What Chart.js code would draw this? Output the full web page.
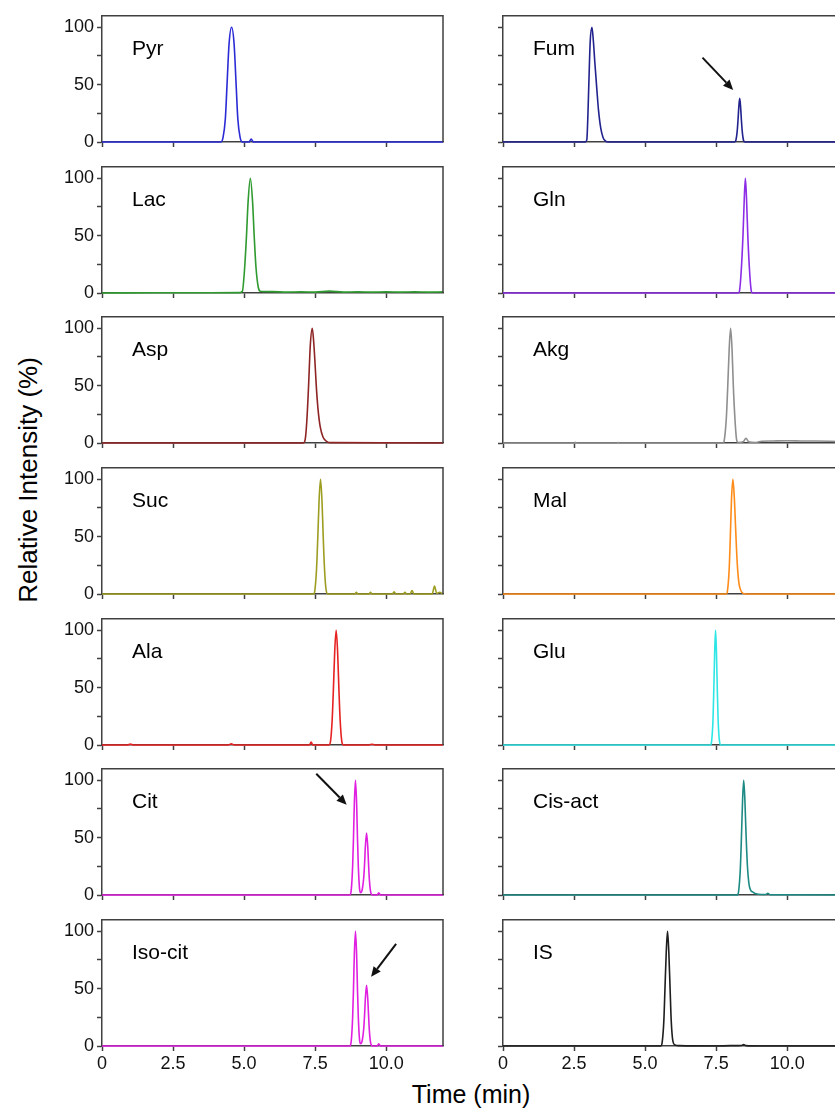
<!DOCTYPE html>
<html>
<head>
<meta charset="utf-8">
<script src="https://cdn.jsdelivr.net/npm/chart.js@4.4.1/dist/chart.umd.min.js"></script>
<style>
  html, body { margin: 0; padding: 0; background: #fff; overflow: hidden; }
  #wrap { position: relative; width: 835px; height: 1111px; overflow: hidden;
          font-family: "Liberation Sans", Arial, sans-serif; color: #000; }
  #wrap canvas { position: absolute; }
  #ytitle { position: absolute; left: 28px; top: 480px; white-space: nowrap; font-size: 26px;
            transform: translate(-50%, -50%) rotate(-90deg); }
  #xtitle { position: absolute; left: 471px; top: 1094px; white-space: nowrap; font-size: 25px;
            transform: translate(-50%, -50%); }
</style>
</head>
<body>
<div id="wrap">
  <div id="ytitle">Relative Intensity (%)</div>
  <div id="xtitle">Time (min)</div>
</div>
<script>
// axis ticks
const timeTicks = [0, 2.5, 5, 7.5, 10];
const intensityTicks = [0, 25, 50, 75, 100];
const labeledIntensity = [0, 50, 100];

// traces, [time (min), relative intensity (%)]
const pyr = [[0,0],[4.18,0],[4.26,4],[4.34,20],[4.4,50],[4.47,85],[4.56,100],[4.65,85],[4.72,50],[4.78,20],[4.86,4],[4.94,0],[5.17,0],[5.25,2.5],[5.33,0],[12,0]];
const lac = [[0,0],[2,0.2],[4.85,0.3],[4.94,1.5],[5.02,22],[5.085,50],[5.14,79],[5.22,100],[5.3,79],[5.355,50],[5.42,22],[5.5,5],[5.57,1.5],[6,1.2],[6.5,0.8],[7,1],[7.5,0.8],[8,1.6],[8.5,0.8],[9,1],[9.5,0.8],[10,1],[10.5,0.8],[11,1],[11.5,0.8],[12,1]];
const asp = [[0,0],[7.08,0],[7.15,3],[7.21,20],[7.27,50],[7.33,85],[7.4,100],[7.45,88],[7.5,68],[7.54,50],[7.6,30],[7.68,14],[7.78,5],[7.9,1.5],[8.05,0.3],[12,0]];
const suc = [[0,0],[7.45,0],[7.49,3],[7.55,22],[7.595,50],[7.64,82],[7.69,100],[7.74,82],[7.785,50],[7.83,22],[7.89,3],[7.95,0],[8.9,0],[8.95,1.5],[9.0,0],[9.4,0],[9.45,1.5],[9.5,0],[10.22,0],[10.28,2],[10.34,0],[10.6,0],[10.66,1.5],[10.72,0],[10.84,0],[10.91,3],[10.98,0],[11.62,0],[11.7,7],[11.78,0.5],[11.88,1.5],[12,0]];
const ala = [[0,0],[0.9,0],[1.0,0.8],[1.1,0],[4.45,0],[4.55,1],[4.65,0],[7.3,0],[7.36,2.5],[7.42,0],[7.98,0],[8.04,3],[8.1,22],[8.145,50],[8.19,82],[8.24,100],[8.29,82],[8.335,50],[8.38,22],[8.44,3],[8.5,0],[9.4,0],[9.5,0.7],[9.6,0],[12,0]];
const cit = [[0,0],[8.72,0],[8.77,4],[8.82,25],[8.85,50],[8.88,80],[8.92,100],[8.96,80],[8.99,50],[9.02,25],[9.07,4],[9.1,2],[9.16,5],[9.21,15],[9.24,27],[9.27,43],[9.31,54],[9.35,43],[9.38,27],[9.41,13],[9.46,2],[9.52,0],[9.68,0],[9.74,2],[9.8,0],[12,0]];
const isoCit = [[0,0],[8.72,0],[8.77,4],[8.82,25],[8.85,50],[8.88,80],[8.92,100],[8.96,80],[8.99,50],[9.02,25],[9.07,4],[9.1,2],[9.16,5],[9.21,15],[9.24,27],[9.27,42],[9.31,53],[9.35,42],[9.38,27],[9.41,13],[9.46,2],[9.52,0],[9.68,0],[9.74,2],[9.8,0],[12,0]];
const fum = [[0,0],[2.9,0],[2.95,2],[2.99,25],[3.02,50],[3.07,88],[3.13,100],[3.18,88],[3.23,70],[3.29,50],[3.36,28],[3.44,12],[3.52,4],[3.6,1],[3.7,0],[8.15,0],[8.2,2],[8.24,9],[8.27,19],[8.3,31],[8.33,38],[8.36,31],[8.39,19],[8.42,9],[8.47,1],[8.52,0],[12,0]];
const gln = [[0,0],[8.28,0],[8.33,3],[8.39,22],[8.445,50],[8.49,82],[8.53,100],[8.57,82],[8.615,50],[8.67,22],[8.73,3],[8.78,0],[12,0]];
const akg = [[0,0],[2.5,0],[2.55,0.6],[2.6,0],[4.0,0],[4.05,0.5],[4.1,0],[7.75,0],[7.79,3],[7.86,22],[7.91,50],[7.96,82],[8.01,100],[8.06,82],[8.105,50],[8.16,22],[8.22,3],[8.28,0.5],[8.45,1],[8.55,4],[8.65,1],[8.9,0.5],[9.1,1.5],[9.5,1.8],[10,2],[10.5,1.8],[11,1.7],[11.5,1.5],[12,1.2]];
const mal = [[0,0],[7.85,0],[7.9,3],[7.96,22],[8.0,50],[8.04,82],[8.09,100],[8.14,84],[8.19,55],[8.24,28],[8.3,10],[8.37,3],[8.45,0.5],[8.55,0],[12,0]];
const glu = [[0,0],[7.3,0],[7.34,3],[7.39,22],[7.42,50],[7.45,82],[7.48,100],[7.51,82],[7.54,50],[7.57,22],[7.62,3],[7.67,0],[12,0]];
const cisAct = [[0,0],[8.25,0],[8.29,3],[8.35,22],[8.39,50],[8.43,82],[8.47,100],[8.51,84],[8.55,55],[8.6,26],[8.66,9],[8.72,4],[8.8,2.5],[8.9,1],[9.1,0.5],[9.25,0.5],[9.32,1.5],[9.4,0.2],[12,0]];
const is = [[0,0],[5.55,0],[5.6,3],[5.66,22],[5.7,50],[5.745,82],[5.79,100],[5.835,82],[5.88,50],[5.92,22],[5.98,4],[6.05,1],[6.2,0.3],[7.5,0],[8.0,0.3],[8.4,0.5],[8.47,1.2],[8.55,0.3],[9,0],[12,0]];

// arrows: [from, to] in [time, intensity]
const fumArrow = [[7.02, 73.5], [8.1, 45.4]];
const citArrow = [[7.54, 105.7], [8.61, 78.7]];
const isoCitArrow = [[10.35, 89], [9.47, 60.3]];

const panels = [
  { name: 'Pyr',     data: pyr,    color: '#2b2bd6', col: 0, row: 0 },
  { name: 'Lac',     data: lac,    color: '#2f9a2f', col: 0, row: 1 },
  { name: 'Asp',     data: asp,    color: '#8e2424', col: 0, row: 2 },
  { name: 'Suc',     data: suc,    color: '#9d9d22', col: 0, row: 3 },
  { name: 'Ala',     data: ala,    color: '#e62222', col: 0, row: 4 },
  { name: 'Cit',     data: cit,    color: '#e11fe1', col: 0, row: 5, arrow: citArrow },
  { name: 'Iso-cit', data: isoCit, color: '#e11fe1', col: 0, row: 6, arrow: isoCitArrow },
  { name: 'Fum',     data: fum,    color: '#22228f', col: 1, row: 0, arrow: fumArrow },
  { name: 'Gln',     data: gln,    color: '#8d2ee6', col: 1, row: 1 },
  { name: 'Akg',     data: akg,    color: '#8f8f8f', col: 1, row: 2 },
  { name: 'Mal',     data: mal,    color: '#ff8c1a', col: 1, row: 3 },
  { name: 'Glu',     data: glu,    color: '#2fe6e6', col: 1, row: 4 },
  { name: 'Cis-act', data: cisAct, color: '#1d8a84', col: 1, row: 5 },
  { name: 'IS',      data: is,     color: '#1e1e1e', col: 1, row: 6 }
];

// layout
const colLeft = [102, 503];
const rowBottom = [142, 293, 443, 594, 745, 895, 1046];
const plotW = 341, plotH = 128, axisW = 50, padTop = 12, padRight = 6, axisH = 30;
const axisColor = '#404040';
const fontFamily = '"Liberation Sans", Arial, sans-serif';

function drawArrow(ctx, x0, y0, x1, y1) {
  const ang = Math.atan2(y1 - y0, x1 - x0);
  const head = 10, half = 4.5;
  const bx = x1 - head * Math.cos(ang), by = y1 - head * Math.sin(ang);
  ctx.beginPath(); ctx.moveTo(x0, y0); ctx.lineTo(bx, by); ctx.stroke();
  ctx.beginPath();
  ctx.moveTo(x1, y1);
  ctx.lineTo(bx + half * Math.sin(ang), by - half * Math.cos(ang));
  ctx.lineTo(bx - half * Math.sin(ang), by + half * Math.cos(ang));
  ctx.closePath(); ctx.fill();
}

const panelDecor = {
  id: 'panelDecor',
  afterDatasetsDraw(chart, args, opts) {
    const { ctx, chartArea: a, scales: { x, y } } = chart;
    ctx.save();
    ctx.strokeStyle = axisColor; ctx.lineWidth = 1.5;
    ctx.beginPath();
    ctx.moveTo(a.left, a.top); ctx.lineTo(a.right, a.top); ctx.lineTo(a.right, a.bottom);
    ctx.stroke();
    ctx.fillStyle = '#000';
    ctx.font = '21px ' + fontFamily;
    ctx.textBaseline = 'alphabetic';
    ctx.fillText(opts.label, a.left + 30, a.top + 39);
    if (opts.arrow) {
      const [p, q] = opts.arrow;
      ctx.strokeStyle = '#111'; ctx.fillStyle = '#111'; ctx.lineWidth = 2;
      drawArrow(ctx, x.getPixelForValue(p[0]), y.getPixelForValue(p[1]),
                     x.getPixelForValue(q[0]), y.getPixelForValue(q[1]));
    }
    ctx.restore();
  }
};

const wrap = document.getElementById('wrap');
panels.forEach(p => {
  const cv = document.createElement('canvas');
  const w = axisW + plotW + padRight, h = padTop + plotH + axisH;
  cv.width = w; cv.height = h;
  cv.style.width = w + 'px'; cv.style.height = h + 'px';
  cv.style.left = (colLeft[p.col] - axisW) + 'px';
  cv.style.top = (rowBottom[p.row] - plotH - padTop) + 'px';
  wrap.appendChild(cv);
  const bottomRow = p.row === 6;
  new Chart(cv, {
    type: 'line',
    data: {
      datasets: [{
        data: p.data.map(d => ({ x: d[0], y: d[1] })),
        borderColor: p.color,
        borderWidth: 1.6,
        pointRadius: 0,
        fill: false,
        cubicInterpolationMode: 'monotone',
        clip: false
      }]
    },
    options: {
      responsive: false,
      animation: false,
      events: [],
      layout: { padding: { top: padTop, right: padRight, left: 0, bottom: 0 } },
      plugins: {
        legend: { display: false },
        tooltip: { enabled: false },
        panelDecor: { label: p.name, arrow: p.arrow }
      },
      scales: {
        x: {
          type: 'linear', min: 0, max: 12,
          afterBuildTicks: s => { s.ticks = timeTicks.map(v => ({ value: v })); },
          afterFit: s => { s.height = axisH; },
          grid: { drawOnChartArea: false, drawTicks: true, tickLength: 5, color: axisColor, tickWidth: 1.5 },
          border: { display: true, color: axisColor, width: 1.5 },
          ticks: {
            padding: 2, color: '#111', maxRotation: 0, autoSkip: false,
            font: { size: 18, family: fontFamily },
            callback: v => bottomRow ? (v === 0 ? '0' : v.toFixed(1)) : ''
          }
        },
        y: {
          type: 'linear', min: 0, max: 110,
          afterBuildTicks: s => { s.ticks = intensityTicks.map(v => ({ value: v })); },
          afterFit: s => { s.width = axisW; },
          grid: { drawOnChartArea: false, drawTicks: true, tickLength: 5, color: axisColor, tickWidth: 1.5 },
          border: { display: true, color: axisColor, width: 1.5 },
          ticks: {
            padding: 3, color: '#111',
            font: { size: 18, family: fontFamily },
            callback: v => (p.col === 0 && labeledIntensity.includes(v)) ? String(v) : ''
          }
        }
      }
    },
    plugins: [panelDecor]
  });
});
</script>
</body>
</html>
